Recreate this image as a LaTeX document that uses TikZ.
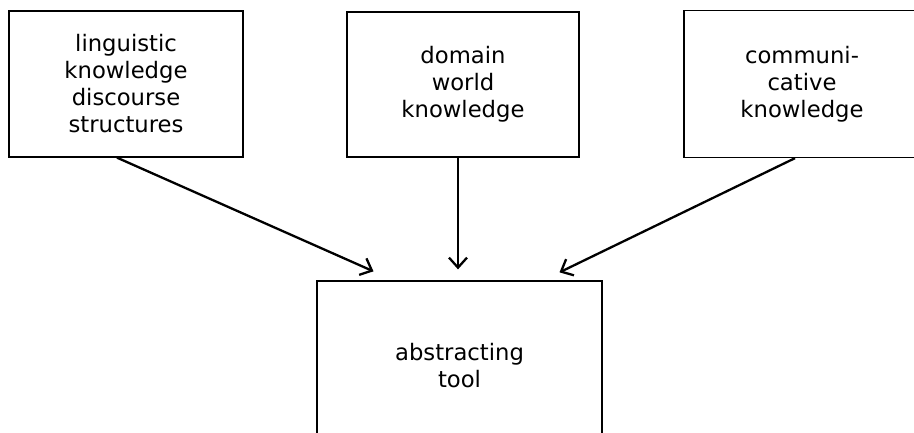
\documentclass[tikz,border=0pt]{standalone}
\usepackage{fontspec}
\setmainfont{DejaVu Sans}
\usetikzlibrary{arrows.meta}

\tikzset{
  box/.style={draw, line width=1.3pt, align=center, inner sep=0pt,
    font=\fontsize{22.7}{27}\selectfont},
  feed/.style={line width=2.3pt, -{Straight Barb[length=10pt,width=18pt,line width=2.3pt]}}
}

\begin{document}
\begin{tikzpicture}[x=1pt, y=-1pt]
\useasboundingbox (0,0) rectangle (914,433);

\node[box, minimum width=234pt, minimum height=146pt] (ling) at (126,84)
  {linguistic\\knowledge\\discourse\\structures};
\node[box, minimum width=232pt, minimum height=145pt] (dom) at (463,84.5)
  {domain\\world\\knowledge};
\node[box, minimum width=236pt, minimum height=147pt] (comm) at (802,84)
  {communi-\\cative\\knowledge};
\node[box, minimum width=285pt, minimum height=170pt] (tool) at (459.5,366)
  {abstracting\\tool};

\draw[feed] ([xshift=-9pt]ling.south) -- ([xshift=-86pt, yshift=9pt]tool.north);
\draw[feed] ([xshift=-5pt]dom.south) -- ([xshift=-1.5pt, yshift=11pt]tool.north);
\draw[feed] ([xshift=-7pt]comm.south) -- ([xshift=100pt, yshift=8pt]tool.north);
\end{tikzpicture}
\end{document}
